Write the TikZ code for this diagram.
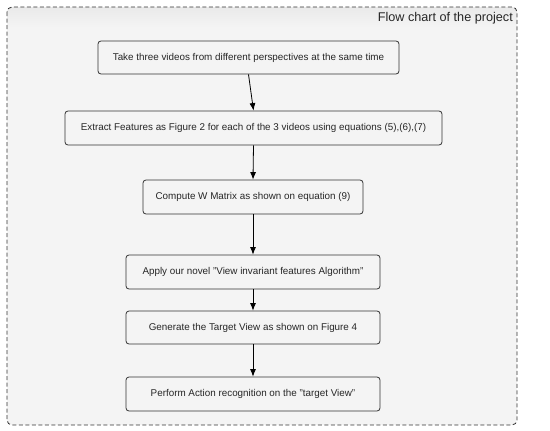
\documentclass[tikz,border=0pt]{standalone}
\usepackage{fontspec}
\setmainfont{Liberation Sans}
\usetikzlibrary{arrows.meta}
\definecolor{bg}{HTML}{F4F4F4}
\definecolor{band}{HTML}{EAEAEA}
\definecolor{edge}{HTML}{333333}
\tikzset{
  stepbox/.style={draw=edge, line width=0.8pt, rounded corners=3pt, fill=bg, inner sep=0pt, text=black!85, font=\fontsize{9.85}{11}\selectfont},
  flow/.style={draw=black, line width=0.8pt, -{Latex[length=7.5pt,width=6pt]}},
}
\begin{document}
\begin{tikzpicture}[x=1pt,y=-1pt]
\useasboundingbox (0,0) rectangle (550,431);
\fill[white] (0,0) rectangle (550,431);
% outer frame
\begin{scope}
\clip[rounded corners=5pt] (7,7) rectangle (517,425);
\fill[bg] (7,7) rectangle (517,425);
\shade[top color=band, bottom color=bg] (7,7) rectangle (517,28);
\end{scope}
\draw[edge, line width=0.8pt, dash pattern=on 4pt off 2.5pt, rounded corners=5pt] (7,7) rectangle (517,425);
\node[anchor=base east, font=\fontsize{12.65}{14}\selectfont, inner sep=0pt, text=black!85] (title) at (513,21) {Flow chart of the project};
% steps
\node[stepbox, minimum width=301pt, minimum height=33pt] (s1) at (248.5,57.5) {Take three videos from different perspectives at the same time};
\node[stepbox, minimum width=377pt, minimum height=34pt] (s2) at (253.5,128) {Extract Features as Figure 2 for each of the 3 videos using equations (5),(6),(7)};
\node[stepbox, minimum width=220pt, minimum height=34pt] (s3) at (253,197) {Compute W Matrix as shown on equation (9)};
\node[stepbox, minimum width=254pt, minimum height=34pt] (s4) at (253,272) {Apply our novel "View invariant features Algorithm"};
\node[stepbox, minimum width=254pt, minimum height=33pt] (s5) at (253,327.5) {Generate the Target View as shown on Figure 4};
\node[stepbox, minimum width=254pt, minimum height=34pt] (s6) at (253,394) {Perform Action recognition on the "target View"};
% connectors
\draw[flow] (s1.south) -- (s2.north);
\draw[flow] (s2.south) -- (s3.north);
\draw[flow] (s3.south) -- (s4.north);
\draw[flow] (s4.south) -- (s5.north);
\draw[flow] (s5.south) -- (s6.north);
\end{tikzpicture}
\end{document}
